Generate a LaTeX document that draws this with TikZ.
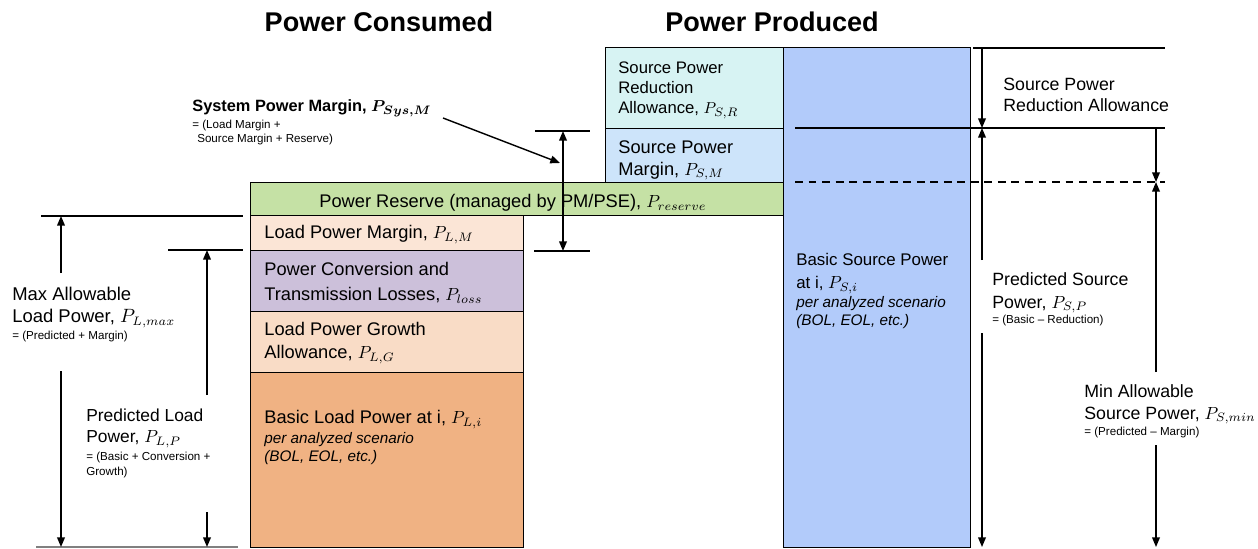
\documentclass[tikz,border=0pt]{standalone}
\usepackage{fontspec}
\setmainfont{Liberation Sans}
\usetikzlibrary{arrows.meta,positioning}

\definecolor{reservegreen}{RGB}{197,225,165}
\definecolor{marginpeach}{RGB}{251,229,214}
\definecolor{losspurple}{RGB}{204,192,218}
\definecolor{growthpeach}{RGB}{249,220,198}
\definecolor{basicorange}{RGB}{240,178,131}
\definecolor{reductioncyan}{RGB}{215,243,243}
\definecolor{smarginblue}{RGB}{205,228,250}
\definecolor{sourceblue}{RGB}{178,203,250}

\begin{document}
\begin{tikzpicture}[x=0.02cm,y=-0.02cm]
\tikzset{block/.style = {draw, line width=0.8pt, anchor=north west, inner sep=0pt}}
\tikzset{txt/.style = {anchor=north west, inner sep=0pt, align=left, font=\fontsize{10.4}{12.5}\selectfont}}
\tikzset{note/.style = {anchor=north west, inner sep=0pt, align=left, font=\fontsize{6.6}{8.4}\selectfont}}
\tikzset{scen/.style = {anchor=north west, inner sep=0pt, align=left, font=\fontsize{8.7}{10.2}\selectfont\itshape}}
\tikzset{title/.style = {anchor=north, inner sep=0pt, font=\fontsize{15.4}{18}\selectfont\bfseries}}
\tikzset{tick/.style = {line width=0.8pt}}
\tikzset{dim/.style = {line width=0.8pt, -{Triangle[length=5.5pt,width=4.4pt]}}}
\useasboundingbox (0,0) rectangle (1258,548);

\node[title] (consumed) at (379,12) {Power Consumed};
\node[title] (produced) at (772,12) {Power Produced};

\node[block, fill=sourceblue, minimum width=3.74cm, minimum height=10.00cm] (basicsrc) at (783,47) {};
\node[block, fill=reductioncyan, minimum width=3.56cm, minimum height=1.62cm] (sred) at (605,47) {};
\node[block, fill=smarginblue, minimum width=3.56cm, minimum height=1.08cm] (smargin) at (605,128) {};
\node[block, fill=reservegreen, minimum width=10.66cm, minimum height=0.66cm] (reserve) at (250,182) {};
\node[block, fill=marginpeach, minimum width=5.46cm, minimum height=0.70cm] (lmargin) at (250,215) {};
\node[block, fill=losspurple, minimum width=5.46cm, minimum height=1.22cm] (loss) at (250,250) {};
\node[block, fill=growthpeach, minimum width=5.46cm, minimum height=1.22cm] (growth) at (250,311) {};
\node[block, fill=basicorange, minimum width=5.46cm, minimum height=3.50cm] (basicload) at (250,372) {};

\node[txt, font=\fontsize{9.5}{11.6}\selectfont] (sredt) at (618,61) {Source Power\\Reduction\\Allowance, $P_{S,R}$};
\node[txt] (smargint) at (618,140) {Source Power\\Margin, $P_{S,M}$};
\node[txt] (reservet) at (319,194) {Power Reserve (managed by PM/PSE), $P_{reserve}$};
\node[txt] (lmargint) at (264,225) {Load Power Margin, $P_{L,M}$};
\node[txt, font=\fontsize{10.4}{14.2}\selectfont] (losst) at (264,262) {Power Conversion and\\Transmission Losses, $P_{loss}$};
\node[txt, font=\fontsize{10.4}{13}\selectfont] (growtht) at (264,322) {Load Power Growth\\Allowance, $P_{L,G}$};
\node[txt] (basicloadt) at (264,410) {Basic Load Power at i, $P_{L,i}$};
\node[scen] (basicloads) at (264,432) {per analyzed scenario\\(BOL, EOL, etc.)};
\node[txt, font=\fontsize{9.6}{13}\selectfont] (basicsrct) at (796,253) {Basic Source Power\\at i, $P_{S,i}$};
\node[scen] (basicsrcs) at (796,296) {per analyzed scenario\\(BOL, EOL, etc.)};

\node[txt, font=\fontsize{10.1}{11.9}\selectfont] (sredl) at (1003,78) {Source Power\\Reduction Allowance};
\node[txt, font=\fontsize{10.1}{13}\selectfont] (predsrcl) at (992,272) {Predicted Source\\Power, $P_{S,P}$};
\node[note] (predsrcf) at (992,315) {= (Basic \textendash{} Reduction)};
\node[txt, font=\fontsize{10.1}{12.5}\selectfont] (minl) at (1084,384) {Min Allowable\\Source Power, $P_{S,min}$};
\node[note] (minf) at (1084,427) {= (Predicted \textendash{} Margin)};
\node[txt, font=\fontsize{10.5}{12.5}\selectfont] (maxl) at (12,287) {Max Allowable\\Load Power, $P_{L,max}$};
\node[note] (maxf) at (12,331) {= (Predicted + Margin)};
\node[txt, font=\fontsize{9.9}{11.9}\selectfont] (predl) at (86,409) {Predicted Load\\Power, $P_{L,P}$};
\node[note] (predf) at (86,452) {= (Basic + Conversion +\\Growth)};
\node[txt, font=\fontsize{9.3}{11}\selectfont\bfseries\boldmath] (sysl) at (192,99) {System Power Margin, $P_{Sys,M}$};
\node[note, font=\fontsize{6.6}{8}\selectfont] (sysf) at (192,120) {= (Load Margin +\\\hspace*{2.8pt}Source Margin + Reserve)};

\coordinate (maxa) at (41,216);   \coordinate (maxb) at (243,216);
\coordinate (preda) at (168,250); \coordinate (predb) at (243,250);
\coordinate (basea) at (36,547);  \coordinate (baseb) at (238,547);
\draw[tick] (maxa) -- (maxb);
\draw[tick] (preda) -- (predb);
\draw[tick, gray] (basea) -- (baseb);
\coordinate (maxup) at (61,273);  \coordinate (maxdn) at (61,371);
\coordinate (predup) at (207,395); \coordinate (preddn) at (207,512);
\draw[dim] (maxup) -- (maxa -| maxup);
\draw[dim] (maxdn) -- (basea -| maxdn);
\draw[dim] (predup) -- (preda -| predup);
\draw[dim] (preddn) -- (basea -| preddn);

\coordinate (sysa) at (535,131); \coordinate (sysb) at (590,131);
\coordinate (sysc) at (534,251); \coordinate (sysd) at (590,251);
\coordinate (systop) at (563,131); \coordinate (sysbot) at (563,251);
\draw[tick] (sysa) -- (sysb);
\draw[tick] (sysc) -- (sysd);
\draw[dim, {Triangle[length=5.5pt,width=4.4pt]}-{Triangle[length=5.5pt,width=4.4pt]}] (systop) -- (sysbot);
\coordinate (sysp) at (443,118); \coordinate (sysq) at (560,163);
\draw[dim] (sysp) -- (sysq);

\coordinate (topa) at (973,48);  \coordinate (topb) at (1165,48);
\coordinate (reda) at (795,128); \coordinate (redb) at (1165,128);
\coordinate (mara) at (795,182); \coordinate (marb) at (1165,182);
\coordinate (srcbot) at (982,547);
\draw[tick] (topa) -- (topb);
\draw[tick] (reda) -- (redb);
\draw[tick, dash pattern=on 4.5pt off 3.2pt] (mara) -- (marb);
\coordinate (redx) at (982,48);
\coordinate (psup) at (982,260); \coordinate (psdn) at (982,333);
\draw[dim] (redx) -- (reda -| redx);
\draw[dim] (psup) -- (reda -| psup);
\draw[dim] (psdn) -- (srcbot);
\coordinate (smx) at (1156,128);
\coordinate (minup) at (1156,372); \coordinate (mindn) at (1156,445);
\draw[dim] (smx) -- (mara -| smx);
\draw[dim] (minup) -- (mara -| minup);
\draw[dim] (mindn) -- (srcbot -| mindn);
\end{tikzpicture}
\end{document}
